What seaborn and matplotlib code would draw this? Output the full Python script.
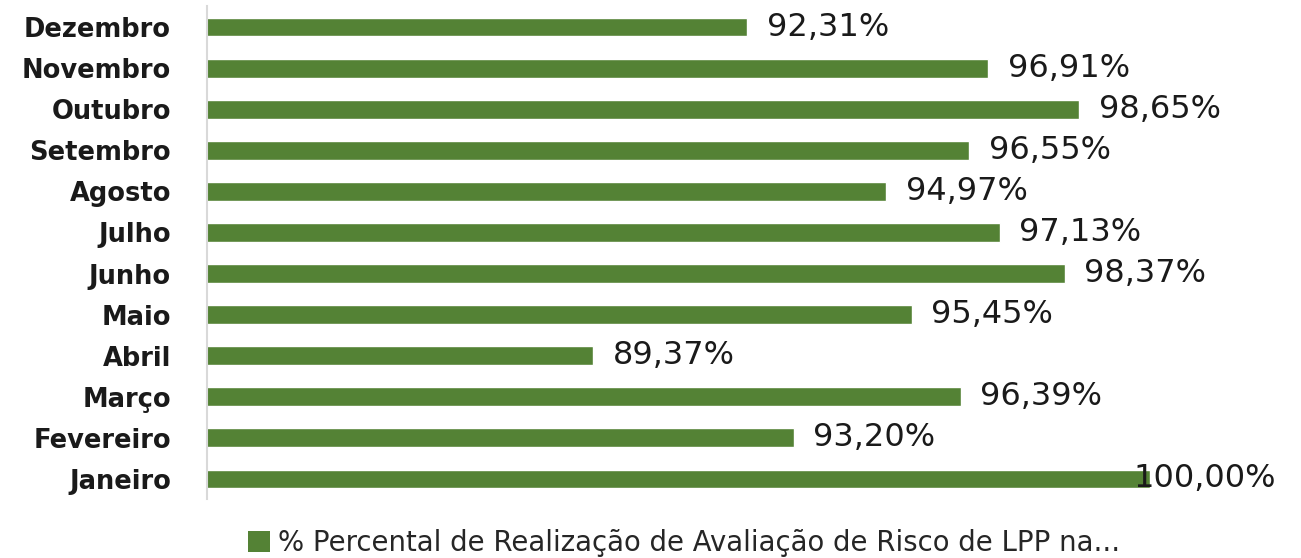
import numpy as np
import pandas as pd
import matplotlib
matplotlib.use("Agg")
import matplotlib.pyplot as plt
from matplotlib.patches import Patch
import seaborn as sns

# Data
MONTHS = ["Dezembro", "Novembro", "Outubro", "Setembro", "Agosto", "Julho",
          "Junho", "Maio", "Abril", "Março", "Fevereiro", "Janeiro"]
VALUES = [92.31, 96.91, 98.65, 96.55, 94.97, 97.13,
          98.37, 95.45, 89.37, 96.39, 93.20, 100.00]
SERIES = "% Percental de Realização de Avaliação de Risco de LPP na..."

GREEN = "#548235"
XMIN, XMAX = 82, 100


def fmt_pct(v):
    return f"{v:.2f}".replace(".", ",") + "%"


def main():
    sns.set_theme(style="white")
    plt.rcParams["font.family"] = ["DejaVu Sans"]

    df = pd.DataFrame({"mes": MONTHS, "valor": VALUES})

    fig = plt.figure(figsize=(13.01, 5.58), dpi=100)
    ax = fig.add_axes([207 / 1301, 1 - 499.5 / 558, (1150 - 207) / 1301, 493 / 558])

    sns.barplot(data=df, x="valor", y="mes", color=GREEN, width=0.46,
                saturation=1, ax=ax)

    ax.set_xlim(XMIN, XMAX)
    ax.set_ylim(len(MONTHS) - 0.5, -0.5)
    ax.set_xlabel("")
    ax.set_ylabel("")
    ax.set_xticks([])
    for side in ["top", "right", "bottom"]:
        ax.spines[side].set_visible(False)
    ax.spines["left"].set_color("#d9d9d9")
    ax.spines["left"].set_linewidth(1.5)
    ax.tick_params(axis="y", length=0, pad=26)
    for lbl in ax.get_yticklabels():
        lbl.set_fontsize(18.5)
        lbl.set_fontweight("bold")
        lbl.set_color("#1a1a1a")

    for i, v in enumerate(VALUES):
        x = min(v, XMAX - 0.15)
        off = 14 if v < XMAX - 0.5 else -6
        ax.annotate(fmt_pct(v), xy=(x, i), xytext=(off, 0),
                    textcoords="offset points", va="center", ha="left",
                    fontsize=23, color="#1a1a1a", annotation_clip=False)

    handle = Patch(facecolor=GREEN, edgecolor="none")
    fig.legend([handle], [SERIES], loc="center", bbox_to_anchor=(0.526, 1 - 543 / 558),
               frameon=False, fontsize=19.8, handlelength=0.8, handleheight=0.8,
               handletextpad=0.3, borderpad=0)

    fig.savefig("out.png", dpi=100)
    plt.close(fig)


if __name__ == "__main__":
    main()
